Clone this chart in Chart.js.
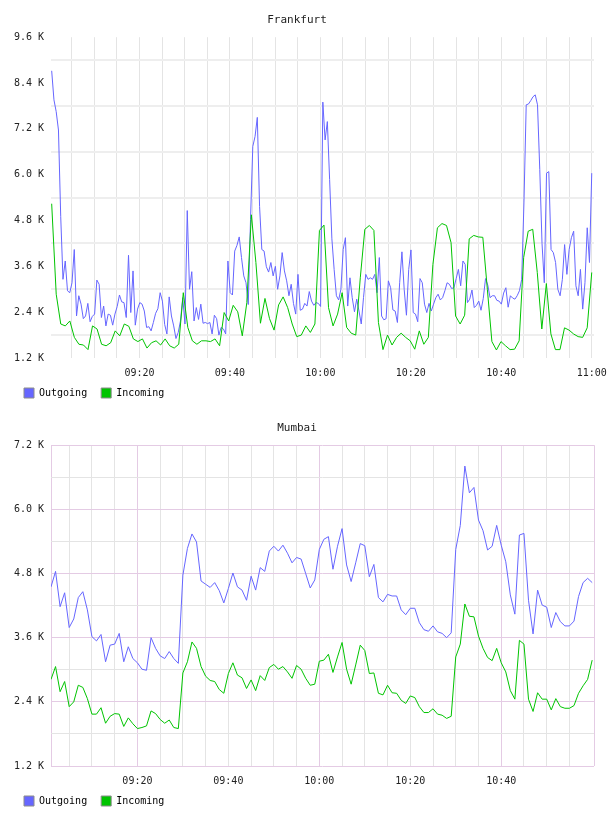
<!DOCTYPE html>
<html>
<head>
<meta charset="utf-8">
<script src="https://cdn.jsdelivr.net/npm/chart.js@4"></script>
<style>
    html, body { margin: 0; padding: 0; background: #fff; }
    canvas { display: block; }
</style>
</head>
<body>
<canvas id="frankfurt" width="608" height="408"></canvas>
<canvas id="mumbai" width="608" height="408"></canvas>
<script>
// values in K (Frankfurt outgoing every 30 s, the rest every minute)
const frankfurtOutgoing = [
    8.72, 7.96, 7.65, 7.17, 4.91, 3.26, 3.74, 2.96, 2.91, 3.17,
    4.04, 2.30, 2.83, 2.61, 2.23, 2.30, 2.63, 2.15, 2.29, 2.35,
    3.24, 3.13, 2.26, 2.56, 2.04, 2.35, 2.32, 2.06, 2.35, 2.55,
    2.85, 2.67, 2.65, 2.26, 3.89, 2.39, 3.48, 2.06, 2.48, 2.65,
    2.61, 2.43, 2.00, 2.02, 1.91, 2.13, 2.37, 2.49, 2.91, 2.69,
    2.08, 1.83, 2.80, 2.30, 2.04, 1.71, 1.87, 2.17, 2.78, 2.09,
    5.06, 3.00, 3.46, 2.17, 2.52, 2.21, 2.61, 2.11, 2.13, 2.10,
    2.13, 1.83, 2.32, 2.23, 1.80, 2.00, 1.96, 1.83, 3.74, 2.91,
    2.85,
    4.00, 4.15, 4.37, 3.83, 3.35, 3.17, 2.60, 4.83, 6.74, 7.00,
    7.50, 5.17, 4.04, 4.00, 3.59, 3.45, 3.70, 3.35, 3.60, 3.00,
    3.35, 3.96, 3.48, 3.22, 2.83, 3.13, 2.63, 2.35, 3.39, 2.45,
    2.48, 2.63, 2.56, 2.94, 2.69, 2.58, 2.65, 2.63, 2.55, 7.90,
    6.91, 7.39, 5.87, 4.32, 3.52, 2.83, 2.72, 3.00, 4.04, 4.35,
    2.56, 3.30, 2.78, 2.41, 2.74, 2.43, 2.09, 2.78, 3.39, 3.26,
    3.30, 3.26, 3.39, 2.91, 3.83, 2.30, 2.20, 2.23, 3.22, 3.04,
    2.46, 2.43, 2.13, 3.17, 3.98, 3.00, 2.32, 3.52, 4.03, 2.39,
    2.35, 2.15, 3.28, 3.17, 2.61, 2.39, 2.63, 2.43, 2.61, 2.78,
    2.87, 2.72, 2.78, 2.96, 3.17, 3.13, 3.02, 3.04, 3.28, 3.52,
    3.09, 3.74, 3.65, 2.65, 2.74, 2.98, 2.52, 2.58, 2.69, 2.45,
    2.76, 3.28, 3.11, 2.78, 2.83, 2.83, 2.71, 2.69, 2.61, 2.90,
    3.04, 2.53, 2.83, 2.77, 2.74, 2.83, 2.96, 3.26, 5.26, 7.83,
    7.85, 7.94, 8.04, 8.09, 7.83, 6.13, 4.20, 3.17, 6.04, 6.08,
    4.04, 3.96, 3.70, 3.00, 2.83, 3.26, 4.17, 3.39, 4.04, 4.35,
    4.52, 3.09, 2.83, 3.52, 2.48, 3.17, 4.61, 3.70, 6.04
];
const frankfurtIncoming = [
    5.24, 2.87, 2.09, 2.04, 2.17, 1.74, 1.56, 1.54, 1.42, 2.04,
    1.96, 1.56, 1.52, 1.60, 1.91, 1.78, 2.09, 2.03, 1.70, 1.63,
    1.70, 1.46, 1.60, 1.65, 1.54, 1.70, 1.52, 1.46, 1.56, 2.91,
    2.00, 1.65, 1.56, 1.65, 1.65, 1.63, 1.70, 1.52, 2.39, 2.17,
    2.58, 2.41, 1.78, 2.65, 4.95, 3.70, 2.11, 2.76, 2.23, 1.93,
    2.59, 2.80, 2.52, 2.09, 1.76, 1.80, 2.04, 1.87, 2.09, 4.54,
    4.68, 2.52, 2.04, 2.35, 2.91, 2.00, 1.85, 1.80, 3.30, 4.57,
    4.67, 4.54, 2.13, 1.42, 1.80, 1.54, 1.74, 1.85, 1.74, 1.65,
    1.43, 1.91, 1.56, 1.74, 3.65, 4.61, 4.72, 4.67, 4.22, 2.30,
    2.09, 2.32, 4.32, 4.41, 4.37, 4.36, 3.00, 1.63, 1.41, 1.63,
    1.52, 1.42, 1.43, 1.65, 3.83, 4.52, 4.57, 3.44, 1.96, 3.15,
    1.83, 1.42, 1.42, 1.99, 1.93, 1.83, 1.76, 1.74, 1.99, 3.44
];
const mumbaiOutgoing = [
    4.55, 4.84, 4.18, 4.44, 3.79, 3.95, 4.35, 4.46, 4.12, 3.62,
    3.54, 3.66, 3.15, 3.46, 3.48, 3.68, 3.15, 3.43, 3.21, 3.13,
    3.01, 2.99, 3.60, 3.40, 3.26, 3.21, 3.34, 3.21, 3.12, 4.77,
    5.27, 5.54, 5.39, 4.66, 4.60, 4.54, 4.63, 4.48, 4.25, 4.52,
    4.81, 4.55, 4.49, 4.30, 4.75, 4.49, 4.91, 4.84, 5.22, 5.31,
    5.22, 5.33, 5.18, 5.00, 5.10, 5.07, 4.80, 4.53, 4.68, 5.25,
    5.44, 5.49, 4.88, 5.31, 5.64, 4.96, 4.65, 5.00, 5.36, 5.32,
    4.74, 4.97, 4.35, 4.27, 4.41, 4.38, 4.38, 4.12, 4.03, 4.15,
    4.15, 3.88, 3.75, 3.72, 3.82, 3.71, 3.68, 3.60, 3.69, 5.25,
    5.70, 6.81, 6.31, 6.41, 5.80, 5.60, 5.24, 5.31, 5.70, 5.33,
    5.02, 4.40, 4.04, 5.52, 5.55, 4.30, 3.67, 4.49, 4.21, 4.17,
    3.79, 4.07, 3.90, 3.82, 3.82, 3.91, 4.37, 4.63, 4.71, 4.63
];
const mumbaiIncoming = [
    2.82, 3.06, 2.59, 2.78, 2.31, 2.40, 2.71, 2.67, 2.46, 2.17,
    2.17, 2.29, 2.00, 2.13, 2.18, 2.17, 1.94, 2.10, 1.99, 1.90,
    1.92, 1.95, 2.23, 2.18, 2.07, 2.00, 2.06, 1.92, 1.90, 2.94,
    3.15, 3.52, 3.40, 3.06, 2.88, 2.80, 2.78, 2.63, 2.56, 2.93,
    3.13, 2.90, 2.85, 2.65, 2.81, 2.61, 2.89, 2.80, 3.04, 3.10,
    3.01, 3.06, 2.96, 2.84, 3.08, 3.01, 2.84, 2.71, 2.73, 3.16,
    3.18, 3.29, 2.95, 3.24, 3.51, 3.01, 2.73, 3.09, 3.46, 3.36,
    2.93, 2.94, 2.56, 2.53, 2.71, 2.57, 2.56, 2.43, 2.37, 2.51,
    2.48, 2.31, 2.20, 2.20, 2.27, 2.17, 2.15, 2.09, 2.13, 3.24,
    3.48, 4.23, 4.00, 3.99, 3.63, 3.40, 3.23, 3.17, 3.40, 3.13,
    2.96, 2.61, 2.45, 3.55, 3.48, 2.45, 2.22, 2.57, 2.45, 2.45,
    2.25, 2.46, 2.31, 2.28, 2.28, 2.33, 2.56, 2.70, 2.82, 3.18
];
// x axis is minutes after 09:00
const tickMinutes = [20, 40, 60, 80, 100, 120];
const tickLabels = ['09:20', '09:40', '10:00', '10:20', '10:40', '11:00'];

const FONT = "'DejaVu Sans Mono', monospace";
const BLUE = '#6666ff';
const GREEN = '#00c400';
const PINK = '#e4cbe4';
const GREY = '#e4e4e4';
const NONE = 'rgba(0,0,0,0)';

// samples spread evenly between first and last minute
function series(values, first, last) {
    const step = (last - first) / (values.length - 1);
    return values.map((v, i) => ({ x: first + i * step, y: v }));
}

function steps(from, to, step) {
    const out = [];
    for (let v = from; v <= to + 1e-9; v += step) out.push(Math.round(v * 100) / 100);
    return out;
}

function isMajor(v, step) {
    return Math.abs(v / step - Math.round(v / step)) < 1e-6;
}

// legend sits a bit to the right of the canvas edge
const legendOffset = {
    id: 'legendOffset',
    afterLayout: chart => { chart.legend.left += 16; }
};

function drawChart(id, title, outgoing, incoming, o) {
    new Chart(document.getElementById(id), {
        type: 'line',
        data: {
            datasets: [
                { label: 'Outgoing', data: outgoing, borderColor: BLUE, backgroundColor: BLUE, order: 1 },
                { label: 'Incoming', data: incoming, borderColor: GREEN, backgroundColor: GREEN, order: 0 }
            ]
        },
        plugins: [legendOffset],
        options: {
            responsive: false,
            animation: false,
            events: [],
            elements: { point: { radius: 0 }, line: { borderWidth: 1, tension: 0 } },
            layout: { padding: { left: 0, right: 14, top: 0, bottom: 0 } },
            plugins: {
                tooltip: { enabled: false },
                title: {
                    display: true, text: title, color: '#222',
                    font: { family: FONT, size: 11, weight: 'normal' },
                    padding: { top: 14, bottom: 10 }
                },
                legend: {
                    position: 'bottom', align: 'start',
                    labels: {
                        boxWidth: 10, boxHeight: 10, padding: 8, color: '#222',
                        font: { family: FONT, size: 10 },
                        generateLabels: chart => chart.data.datasets.map((ds, i) => ({
                            text: ds.label + ' ', fillStyle: ds.borderColor, strokeStyle: '#8c8c8c',
                            lineWidth: 1, datasetIndex: i, hidden: false
                        }))
                    }
                }
            },
            scales: {
                x: {
                    type: 'linear', min: o.xMin, max: o.xMax,
                    afterBuildTicks: s => { s.ticks = o.xTicks.map(v => ({ value: v })); },
                    afterFit: s => { s.height = 22; s.paddingLeft = 0; s.paddingRight = 0; },
                    border: { display: false },
                    grid: { drawTicks: false, color: ctx => o.xGrid(ctx.tick.value) },
                    ticks: {
                        autoSkip: false, maxRotation: 0, padding: 9, color: '#222',
                        font: { family: FONT, size: 10 },
                        callback: v => {
                            const i = tickMinutes.indexOf(v);
                            return i < 0 ? '' : tickLabels[i];
                        }
                    }
                },
                y: {
                    min: o.yMin, max: o.yMax,
                    afterBuildTicks: s => { s.ticks = steps(o.yMin, o.yMax, 0.6).map(v => ({ value: v })); },
                    afterFit: s => { s.width = 51; s.paddingTop = 0; s.paddingBottom = 0; },
                    border: { display: false },
                    grid: {
                        drawTicks: false,
                        color: ctx => o.yGrid(ctx.tick.value),
                        lineWidth: o.yLineWidth || 1
                    },
                    ticks: {
                        autoSkip: false, padding: 7, color: '#222',
                        font: { family: FONT, size: 10 },
                        callback: v => isMajor(v, 1.2) ? v.toFixed(1) + ' K' : ''
                    }
                }
            }
        }
    });
}

drawChart('frankfurt', 'Frankfurt',
    series(frankfurtOutgoing, 0.6, 120),
    series(frankfurtIncoming, 0.6, 120),
    {
        xMin: 0.45, xMax: 120.5, xTicks: steps(5, 120, 5),
        xGrid: () => GREY,
        yMin: 1.2, yMax: 9.6,
        yGrid: v => isMajor(v, 1.2) ? NONE : '#eeeeee',
        yLineWidth: 2
    });

drawChart('mumbai', 'Mumbai',
    series(mumbaiOutgoing, 1, 120),
    series(mumbaiIncoming, 1, 120),
    {
        xMin: 1, xMax: 120.4, xTicks: [1].concat(steps(5, 115, 5), [120.4]),
        xGrid: v => (v === 1 || v === 120.4 || v % 40 === 20) ? PINK : GREY,
        yMin: 1.2, yMax: 7.2,
        yGrid: v => isMajor(v, 1.2) ? PINK : GREY
    });
</script>
</body>
</html>
